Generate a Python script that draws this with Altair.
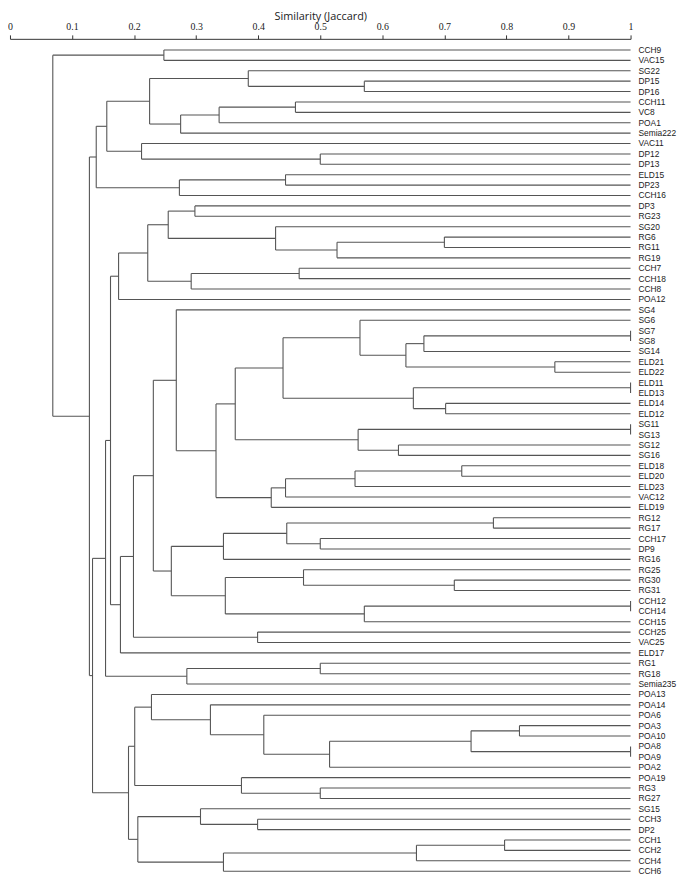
import altair as alt
import pandas as pd

leaves = ["CCH9", "VAC15", "SG22", "DP15", "DP16", "CCH11", "VC8", "POA1", "Semia222",
          "VAC11", "DP12", "DP13", "ELD15", "DP23", "CCH16", "DP3", "RG23", "SG20", "RG6",
          "RG11", "RG19", "CCH7", "CCH18", "CCH8", "POA12", "SG4", "SG6", "SG7", "SG8",
          "SG14", "ELD21", "ELD22", "ELD11", "ELD13", "ELD14", "ELD12", "SG11", "SG13",
          "SG12", "SG16", "ELD18", "ELD20", "ELD23", "VAC12", "ELD19", "RG12", "RG17",
          "CCH17", "DP9", "RG16", "RG25", "RG30", "RG31", "CCH12", "CCH14", "CCH15",
          "CCH25", "VAC25", "ELD17", "RG1", "RG18", "Semia235", "POA13", "POA14", "POA6",
          "POA3", "POA10", "POA8", "POA9", "POA2", "POA19", "RG3", "RG27", "SG15", "CCH3",
          "DP2", "CCH1", "CCH2", "CCH4", "CCH6"]

# merges: node n{k} = (merge_a[k-1], merge_b[k-1]) at similarity merge_h[k-1]
merge_a = ["CCH9", "DP15", "SG22", "CCH11", "n4", "n5", "n3", "DP12", "VAC11", "n7",
           "ELD15", "n11", "n10", "DP3", "RG6", "n15", "SG20", "n14", "CCH7", "n19",
           "n18", "n21", "SG7", "n23", "ELD21", "n24", "SG6", "ELD11", "ELD14", "n28",
           "n27", "SG11", "SG12", "n32", "n31", "ELD18", "n36", "n37", "n38", "n35",
           "SG4", "RG12", "CCH17", "n42", "n44", "RG30", "RG25", "CCH12", "n48", "n47",
           "n45", "n41", "CCH25", "n52", "n54", "n22", "RG1", "n57", "n56", "POA3",
           "POA8", "n60", "n62", "POA6", "POA14", "POA13", "RG3", "POA19", "n66", "CCH3",
           "SG15", "CCH1", "n72", "n73", "n71", "n69", "n59", "n13", "n1"]
merge_b = ["VAC15", "DP16", "n2", "VC8", "POA1", "Semia222", "n6", "DP13", "n8", "n9",
           "DP23", "CCH16", "n12", "RG23", "RG11", "RG19", "n16", "n17", "CCH18", "CCH8",
           "n20", "POA12", "SG8", "SG14", "ELD22", "n25", "n26", "ELD13", "ELD12", "n29",
           "n30", "SG13", "SG16", "n33", "n34", "ELD20", "ELD23", "VAC12", "ELD19", "n39",
           "n40", "RG17", "DP9", "n43", "RG16", "RG31", "n46", "CCH14", "CCH15", "n49",
           "n50", "n51", "VAC25", "n53", "ELD17", "n55", "RG18", "Semia235", "n58", "POA10",
           "POA9", "n61", "POA2", "n63", "n64", "n65", "RG27", "n67", "n68", "DP2",
           "n70", "CCH2", "CCH4", "CCH6", "n74", "n75", "n76", "n77", "n78"]
merge_h = [0.248, 0.571, 0.384, 0.460, 0.337, 0.275, 0.225, 0.500, 0.212, 0.156,
           0.444, 0.273, 0.139, 0.298, 0.700, 0.527, 0.428, 0.255, 0.466, 0.292,
           0.222, 0.175, 1.000, 0.667, 0.878, 0.638, 0.564, 1.000, 0.702, 0.650,
           0.440, 1.000, 0.626, 0.561, 0.363, 0.728, 0.556, 0.444, 0.421, 0.332,
           0.268, 0.779, 0.500, 0.446, 0.344, 0.716, 0.473, 1.000, 0.571, 0.347,
           0.260, 0.231, 0.399, 0.199, 0.178, 0.162, 0.500, 0.285, 0.154, 0.821,
           1.000, 0.743, 0.515, 0.409, 0.323, 0.228, 0.500, 0.373, 0.201, 0.399,
           0.307, 0.797, 0.655, 0.344, 0.206, 0.191, 0.133, 0.128, 0.069]

ticks = [0, 0.1, 0.2, 0.3, 0.4, 0.5, 0.6, 0.7, 0.8, 0.9, 1]

pos = {name: float(i) for i, name in enumerate(leaves)}
xpos = {name: 1.0 for name in leaves}
segs = []
for k, (a, b, h) in enumerate(zip(merge_a, merge_b, merge_h)):
    nid = f"n{k + 1}"
    ya, yb = pos[a], pos[b]
    segs.append(dict(x=h, x2=xpos[a], y=ya, y2=ya))
    segs.append(dict(x=h, x2=xpos[b], y=yb, y2=yb))
    segs.append(dict(x=h, x2=h, y=ya, y2=yb))
    pos[nid] = (ya + yb) / 2
    xpos[nid] = h

seg_df = pd.DataFrame(segs)
lab_df = pd.DataFrame({"name": leaves, "idx": list(range(len(leaves))), "one": [1.0] * len(leaves)})

xscale = alt.Scale(domain=[0, 1], nice=False, zero=False)
yscale = alt.Scale(domain=[-1.07, 79.4], reverse=True, nice=False, zero=False)

lines = alt.Chart(seg_df).mark_rule(color="#555555", strokeWidth=1.1).encode(
    x=alt.X("x:Q", scale=xscale,
            axis=alt.Axis(orient="top", values=ticks, format="~g", title="Similarity (Jaccard)",
                          grid=False, labelFont="Liberation Serif", labelFontSize=10,
                          labelColor="#222222", tickColor="#333333", domainColor="#333333",
                          tickSize=4, labelPadding=3, titleFont="Open Sans",
                          titleFontSize=11, titleFontWeight="normal", titleColor="#222222",
                          titlePadding=1, labelFlush=False)),
    x2="x2:Q",
    y=alt.Y("y:Q", scale=yscale, axis=None),
    y2="y2:Q",
)

labels = alt.Chart(lab_df).mark_text(align="left", baseline="middle", dx=8,
                                      font="Liberation Sans", fontSize=8.5, color="#222222").encode(
    x=alt.X("one:Q", scale=xscale),
    y=alt.Y("idx:Q", scale=yscale),
    text="name:N",
)

chart = alt.layer(lines, labels).properties(
    width=628, height=846.5,
    padding={"left": 2, "top": 26, "right": 47, "bottom": 0},
    autosize=alt.AutoSizeParams(type="none"),
).configure_view(stroke=None)

chart.save("out.html", embed_options={"renderer": "svg", "actions": False})
